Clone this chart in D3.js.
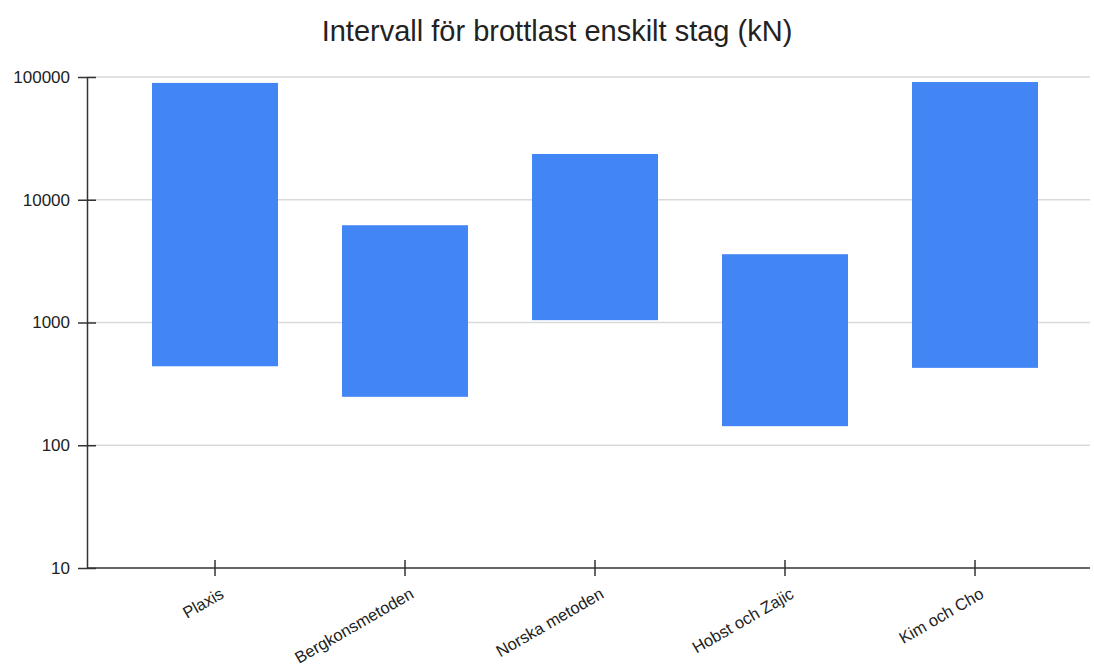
<!DOCTYPE html>
<html>
<head>
<meta charset="utf-8">
<script src="https://cdn.jsdelivr.net/npm/d3@7"></script>
<style>
  body { margin: 0; background: #fff; }
  svg text { font-family: "Liberation Sans", Arial, sans-serif; fill: #222; }
</style>
</head>
<body>
<svg id="chart" width="1094" height="668"></svg>
<script>
// Range of ultimate load per single anchor, by method (kN)
const categories = ["Plaxis", "Bergkonsmetoden", "Norska metoden", "Hobst och Zajic", "Kim och Cho"];
const lowValues  = [440, 248, 1045, 143, 427];
const highValues = [89500, 6200, 23600, 3600, 91000];
const yTicks = [10, 100, 1000, 10000, 100000];
const title = "Intervall för brottlast enskilt stag (kN)";

const svg = d3.select("#chart");
const plotLeft = 87, plotRight = 1090, plotTop = 77, plotBottom = 568;

const x = d3.scaleBand().domain(categories).range([120, 1070]).paddingInner(0.337).paddingOuter(0.1685);
const y = d3.scaleLog().domain([10, 100000]).range([plotBottom, plotTop]);

// horizontal gridlines
svg.append("g").selectAll("line").data(yTicks.slice(1)).join("line")
  .attr("x1", plotLeft).attr("x2", plotRight)
  .attr("y1", d => y(d)).attr("y2", d => y(d))
  .attr("stroke", "#d9d9d9").attr("stroke-width", 1.5);

// interval bars
const data = categories.map((c, i) => ({ c, lo: lowValues[i], hi: highValues[i] }));
svg.append("g").selectAll("rect").data(data).join("rect")
  .attr("x", d => x(d.c))
  .attr("width", x.bandwidth())
  .attr("y", d => y(d.hi))
  .attr("height", d => y(d.lo) - y(d.hi))
  .attr("fill", "#4285f4");

// y axis
const yAxis = d3.axisLeft(y).tickValues(yTicks).tickFormat(d3.format("d")).tickSizeInner(9).tickSizeOuter(0).tickPadding(8);
const gy = svg.append("g").attr("transform", `translate(${plotLeft},0)`).call(yAxis);
gy.select(".domain").attr("stroke", "#333").attr("stroke-width", 1.5);
gy.selectAll(".tick line").attr("stroke", "#333").attr("stroke-width", 1.5).attr("x2", 9).attr("x1", -9);
gy.selectAll(".tick text").attr("font-size", 17).attr("fill", "#222").attr("x", -17);

// x axis
const xAxis = d3.axisBottom(x).tickSizeOuter(0).tickSizeInner(8);
const gx = svg.append("g").attr("transform", `translate(0,${plotBottom})`).call(xAxis);
gx.select(".domain").attr("d", `M${plotLeft},0H${plotRight}`).attr("stroke", "#333").attr("stroke-width", 1.5);
gx.selectAll(".tick line").attr("stroke", "#333").attr("stroke-width", 1.5).attr("y1", -8).attr("y2", 8);
gx.selectAll(".tick text")
  .attr("font-size", 16.5).attr("fill", "#222")
  .attr("text-anchor", "end")
  .attr("y", 0).attr("dy", 0)
  .attr("transform", "translate(10,29) rotate(-30)");

// title
svg.append("text")
  .attr("x", 557).attr("y", 41)
  .attr("text-anchor", "middle")
  .attr("font-size", 29)
  .text(title);
</script>
</body>
</html>
